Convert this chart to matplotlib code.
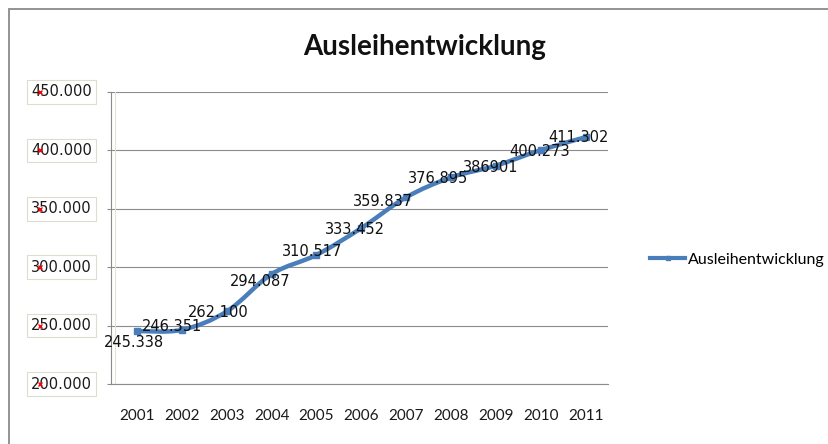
import matplotlib
matplotlib.use('Agg')
import matplotlib.pyplot as plt
from matplotlib.path import Path
from matplotlib.patches import PathPatch, Rectangle
from matplotlib.transforms import blended_transform_factory
from matplotlib.lines import Line2D

years = ['2001', '2002', '2003', '2004', '2005', '2006', '2007', '2008', '2009', '2010', '2011']
ausleihen = [245338, 246351, 262100, 294087, 310517, 333452, 359837, 376895, 386901, 400273, 411302]
point_labels = ['245.338', '246.351', '262.100', '294.087', '310.517', '333.452',
                '359.837', '376.895', '386901', '400.273', '411.302']
y_ticks = [200000, 250000, 300000, 350000, 400000, 450000]
y_ticklabels = ['200.000', '250.000', '300.000', '350.000', '400.000', '450.000']

# where the data labels sit relative to their point (pixels)
label_offsets = [(-3.5, -11), (-10, 3), (-8, -1.5), (-11, -7.5), (-4.5, 3), (-6, -1),
                 (-23, -4), (-12.5, -1), (-5, -1.5), (-1, -1), (-7.5, 0)]

blue = '#4a7ebb'
W, H = 829, 444

fig = plt.figure(figsize=(W / 100, H / 100), dpi=100)
ax = fig.add_axes([111 / W, 60 / H, (608 - 111) / W, 292 / H])

# outer chart frame (runs off the right and bottom edge)
fig.patches.append(Rectangle((9 / W, -0.05), 1.2, 1 - 9 / H + 0.05, transform=fig.transFigure,
                             fill=False, edgecolor='#8a8a8a', linewidth=1.3))

x = list(range(len(years)))

# smoothed line like excel, catmull-rom -> bezier
verts = [(x[0], ausleihen[0])]
codes = [Path.MOVETO]
n = len(x)
for i in range(n - 1):
    p0 = (x[max(i - 1, 0)], ausleihen[max(i - 1, 0)])
    p1 = (x[i], ausleihen[i])
    p2 = (x[i + 1], ausleihen[i + 1])
    p3 = (x[min(i + 2, n - 1)], ausleihen[min(i + 2, n - 1)])
    c1 = (p1[0] + (p2[0] - p0[0]) / 6, p1[1] + (p2[1] - p0[1]) / 6)
    c2 = (p2[0] - (p3[0] - p1[0]) / 6, p2[1] - (p3[1] - p1[1]) / 6)
    verts += [c1, c2, p2]
    codes += [Path.CURVE4, Path.CURVE4, Path.CURVE4]
ax.add_patch(PathPatch(Path(verts, codes), fill=False, edgecolor=blue, linewidth=3.2,
                       capstyle='butt', zorder=3))
ax.plot(x, ausleihen, linestyle='none', marker='s', markersize=4, color=blue, zorder=2)

for i in range(n):
    ax.annotate(point_labels[i], (x[i], ausleihen[i]), xytext=label_offsets[i],
                textcoords='offset pixels', ha='center', va='center',
                fontsize=10.5, family='DejaVu Sans', color='#111111', zorder=4)

ax.set_xlim(-0.58, 10.5)
ax.set_ylim(200000, 450000)
ax.set_yticks(y_ticks)
ax.set_yticklabels([])
ax.set_xticks(x)
ax.set_xticklabels(years, fontsize=11, family='Lato', color='#1a1a1a')
ax.tick_params(axis='x', length=0, pad=18)
ax.tick_params(axis='y', length=3, color='#8a8a8a', direction='out')
ax.grid(axis='y', color='#8c8c8c', linewidth=0.8)
ax.set_axisbelow(True)
for s in ['top', 'right']:
    ax.spines[s].set_visible(False)
ax.spines['left'].set_color('#8a8a8a')
ax.spines['bottom'].set_color('#8c8c8c')
ax.spines['left'].set_linewidth(0.8)
ax.spines['bottom'].set_linewidth(0.8)
ax.axvline(-0.5, color='#e6e2d6', linewidth=0.8, zorder=1)

# boxed y labels, each with the little red x from the original
tr = blended_transform_factory(fig.transFigure, ax.transData)
for v, lab in zip(y_ticks, y_ticklabels):
    fig.text(31 / W, v, lab, transform=tr, ha='left', va='center', fontsize=10.5,
             family='DejaVu Sans', color='#1a1a1a', zorder=3,
             bbox=dict(boxstyle='square,pad=0.3', facecolor='white', edgecolor='#dcdccf', linewidth=0.8))
fig.add_artist(Line2D([40 / W] * len(y_ticks), y_ticks, transform=tr, linestyle='none',
                      marker='x', markersize=3.5, markeredgewidth=1, color='red', zorder=10))

fig.text(425 / W, 1 - 47 / H, 'Ausleihentwicklung', ha='center', va='center',
         fontsize=20, family='Lato', fontweight='bold', color='#111111')

handle = Line2D([], [], color=blue, linewidth=3, marker='s', markersize=3)
fig.legend([handle], ['Ausleihentwicklung'], loc='center left',
           bbox_to_anchor=(650 / W, 1 - 260 / H), frameon=False,
           prop={'family': 'Lato', 'size': 11.5}, handlelength=2.2, handletextpad=0.2,
           borderaxespad=0, borderpad=0)

fig.savefig('out.png', dpi=100)
